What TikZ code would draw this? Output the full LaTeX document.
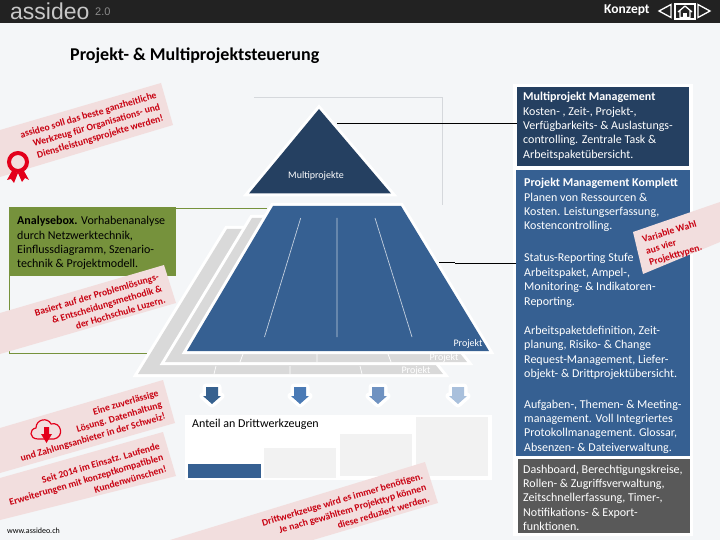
\documentclass[tikz,border=0pt]{standalone}
\usepackage{fontspec}
\setmainfont{Carlito}
\newfontfamily\logofont{Liberation Sans}
\definecolor{pagebg}{HTML}{F4F6F8}
\definecolor{headbg}{HTML}{222222}
\definecolor{navy}{HTML}{254061}
\definecolor{midblue}{HTML}{366092}
\definecolor{darkgray}{HTML}{595959}
\definecolor{olive}{HTML}{76923C}
\definecolor{ribbonpink}{HTML}{F2DEDE}
\definecolor{ribbonred}{HTML}{C80010}
\definecolor{medalred}{HTML}{E3001B}
\definecolor{layergray}{HTML}{D9D9D9}
\definecolor{barray}{HTML}{F2F2F2}
\definecolor{frameline}{HTML}{D5D8DC}
\tikzset{
  x=1pt,y=-1pt,
  panelbox/.style={inner sep=0,outer sep=0},
  bodytext/.style={inner sep=0,anchor=north west,align=left,font=\fontsize{12}{14.45}\selectfont},
  whitebody/.style={bodytext,text=white},
  ribbonfill/.style={fill=ribbonpink,draw=none},
  ribbontext/.style={inner sep=0,anchor=east,align=right,rotate=16.5,text=ribbonred,font=\fontsize{9.7}{12}\selectfont\bfseries},
  halo/.style={preaction={draw=white,line width=6pt,line join=miter}},
  projlabel/.style={inner sep=0,text=white,font=\fontsize{10}{12}\selectfont},
  innerline/.style={draw=white,line width=0.7pt},
  leader/.style={draw=black,line width=1.1pt},
  oliveline/.style={draw=olive,line width=0.8pt},
  navicon/.style={draw=white,line width=1.3pt},
  downarrow/.style={preaction={draw=white,line width=7pt,line join=round}},
}
\begin{document}
\begin{tikzpicture}
\path[use as bounding box,fill=pagebg] (0,0) rectangle (720,540);
% header
\fill[headbg] (0,0) rectangle (720,23);
\node[inner sep=0,anchor=west,text=white!78!black,font=\logofont\fontsize{23}{23}\selectfont] (logo) at (10,11) {assideo};
\node[inner sep=0,anchor=west,text=white!55!black,font=\logofont\fontsize{11}{11}\selectfont] (ver) at (95,11.5) {2.0};
\node[inner sep=0,anchor=west,text=white,font=\fontsize{13.5}{13.5}\selectfont\bfseries] (konzept) at (604,10.5) {Konzept};
\draw[navicon] (671,4.5) -- (659,11) -- (671,17.5) -- cycle;
\draw[navicon] (675,4) rectangle (695,19);
\draw[navicon,line join=round] (678,12) -- (685,6) -- (692,12) (680,11) -- (680,17.5) -- (690,17.5) -- (690,11);
\fill[white] (683,13) rectangle (687,17.5);
\draw[navicon] (698,4.5) -- (710,11) -- (698,17.5) -- cycle;
% title
\node[inner sep=0,anchor=west,font=\fontsize{18}{18}\selectfont\bfseries] (title) at (70,55.5) {Projekt- \& Multiprojektsteuerung};
% guide lines
\coordinate (fa) at (254,97.5); \coordinate (fb) at (442.5,97.5); \coordinate (fc) at (442.5,205);
\draw[frameline,line width=0.8pt] (fa) -- (fb) -- (fc);
\coordinate (oa) at (9,276); \coordinate (ob) at (9,353); \coordinate (oc) at (178,353);
\coordinate (od) at (176,208); \coordinate (oe) at (267,208);
\draw[oliveline] (oa) -- (ob) -- (oc);
\draw[oliveline] (od) -- (oe);
% gray layers
\path[fill=layergray,halo] (227,229) -- (325,229) -- (443,374) -- (138,374) -- cycle;
\draw[innerline] (216,366) -- (214,374) (290,366) -- (290,374) (360,366) -- (362,374);
\path[fill=layergray,halo] (252,218) -- (350,218) -- (467,362) -- (165,362) -- cycle;
\draw[innerline] (243,354) -- (240,362) (317,354) -- (317,362) (388,354) -- (391,362);
% main pyramid
\path[fill=midblue,halo] (273,206) -- (401,206) -- (489,351) -- (187,351) -- cycle;
\draw[draw=white!70!midblue,line width=0.7pt] (300.7,218) -- (264.5,337) (337,218) -- (337,337) (375,218) -- (412,337);
\path[fill=navy,halo] (319,109) -- (391,193.5) -- (249,193.5) -- cycle;
\node[projlabel] (multi) at (316,175.5) {Multiprojekte};
\node[projlabel] (p1) at (468,344) {Projekt};
\node[projlabel] (p2) at (444,358) {Projekt};
\node[projlabel] (p3) at (416,371) {Projekt};
% arrows
\foreach \cx/\col in {212/36618F,300/4A7AB5,378/6F92C1,458/A9C0DC}{
  \definecolor{arrowcol}{HTML}{\col}
  \path[fill=arrowcol,downarrow] (\cx-6,387) -- (\cx+6,387) -- (\cx+6,396) -- (\cx+9,396) -- (\cx,404) -- (\cx-9,396) -- (\cx-6,396) -- cycle;
}
% chart panel
\fill[white] (185,415) rectangle (492,480);
\fill[midblue] (188,464) rectangle (261,478);
\fill[barray] (264,448) rectangle (336,478);
\fill[barray] (340,434) rectangle (412,476);
\fill[barray] (416,417) rectangle (488,476);
\node[inner sep=0,anchor=west,font=\fontsize{12}{12}\selectfont] (anteil) at (192,424.5) {Anteil an Drittwerkzeugen};
% analysis box
\node[panelbox,fill=olive,minimum width=167pt,minimum height=69pt,anchor=north west] (ana) at (9,207) {};
\node[bodytext,text=black] (anatext) at (17,216) {\textbf{Analysebox.} Vorhabenanalyse\\durch Netzwerktechnik,\\Einflussdiagramm, Szenario-\\technik \& Projektmodell.};
% right boxes
\fill[white] (513,84) rectangle (693,536);
\node[panelbox,fill=navy,minimum width=172pt,minimum height=79pt,anchor=north west] (mpm) at (517,87) {};
\node[panelbox,fill=midblue,minimum width=174pt,minimum height=286pt,anchor=north west] (pm) at (516,170) {};
\node[panelbox,fill=darkgray,minimum width=172pt,minimum height=74pt,anchor=north west] (base) at (518,459) {};
\node[whitebody] (mpmt) at (523,92) {\textbf{Multiprojekt Management}\\Kosten- , Zeit-, Projekt-,\\Verfügbarkeits- \& Auslastungs-\\controlling. Zentrale Task \&\\Arbeitspaketübersicht.};
\node[whitebody] (pmt1) at (524,178) {\textbf{Projekt Management Komplett}\\Planen von Ressourcen \&\\Kosten. Leistungserfassung,\\Kostencontrolling.};
\node[whitebody] (pmt2) at (524,253.5) {Status-Reporting Stufe\\Arbeitspaket, Ampel-,\\Monitoring- \& Indikatoren-\\Reporting.};
\node[whitebody] (pmt3) at (524,326) {Arbeitspaketdefinition, Zeit-\\planung, Risiko- \& Change\\Request-Management, Liefer-\\objekt- \& Drittprojektübersicht.};
\node[whitebody] (pmt4) at (524,399.5) {Aufgaben-, Themen- \& Meeting-\\management. Voll Integriertes\\Protokollmanagement. Glossar,\\Absenzen- \& Dateiverwaltung.};
\node[whitebody] (baset) at (523,464.5) {Dashboard, Berechtigungskreise,\\Rollen- \& Zugriffsverwaltung,\\Zeitschnellerfassung, Timer-,\\Notifikations- \& Export-\\funktionen.};
% leaders
\coordinate (la) at (337,123.5); \coordinate (lb) at (439,262.5); \coordinate (lc) at (455,263.5);
\draw[leader] (la) -- (mpm.west |- la);
\draw[leader] (lb) -- (lc |- lb) (lc) -- (pm.west |- lc);
% ribbons
\path[ribbonfill] (161,83) -- (173,125) -- (0,177) -- (0,130) -- cycle;
\node[ribbontext] (r1) at (160,107) {assideo soll das beste ganzheitliche\\Werkzeug für Organisations- und\\Dienstleistungsprojekte werden!};
\path[ribbonfill] (164,265) -- (176,303) -- (0,354) -- (0,313) -- cycle;
\node[ribbontext] (r2) at (162,288) {Basiert auf der Problemlösungs-\\\& Entscheidungsmethodik \&\\der Hochschule Luzern.};
\path[ribbonfill] (163,380) -- (175,423) -- (0,473) -- (0,428) -- cycle;
\node[ribbontext] (r3) at (162,405) {Eine zuverlässige\\Lösung. Datenhaltung\\und Zahlungsanbieter in der Schweiz!};
\path[ribbonfill] (163,432) -- (176,476) -- (0,520) -- (0,478) -- cycle;
\node[ribbontext] (r4) at (163,457) {Seit 2014 im Einsatz. Laufende\\Erweiterungen mit konzeptkompatiblen\\Kundenwünschen!};
\path[ribbonfill] (425,462) -- (438,503) -- (313,540) -- (170,540) -- cycle;
\node[ribbontext] (r5) at (426,487) {Drittwerkzeuge wird es immer benötigen.\\Je nach gewähltem Projekttyp können\\diese reduziert werden.};
\path[ribbonfill] (633,232) -- (720,202) -- (720,242) -- (643,274) -- cycle;
\node[inner sep=0,anchor=west,align=left,rotate=17,text=ribbonred,font=\fontsize{9.7}{12}\selectfont\bfseries] (r6) at (646,252) {Variable Wahl\\aus vier\\Projekttypen.};
% medal
\draw[medalred,line width=4pt] (18,162) circle (9pt);
\fill[medalred] (12,171) -- (18,173) -- (14,183) -- (11,179) -- (7,180) -- cycle;
\fill[medalred] (24,171) -- (18,173) -- (22,182) -- (25,178) -- (29,180) -- cycle;
% cloud
\draw[medalred,line width=1.2pt,line join=round] (38,439) .. controls (29,439) and (29,429) .. (36,428) .. controls (36,419) and (48,417) .. (51,424) .. controls (61,421) and (65,437) .. (54,439) -- cycle;
\fill[medalred] (44,427) -- (49,427) -- (49,434) -- (52,434) -- (46.5,443) -- (41,434) -- (44,434) -- cycle;
% url
\node[inner sep=0,anchor=west,font=\fontsize{8}{8}\selectfont] (url) at (7,531) {www.assideo.ch};
\end{tikzpicture}
\end{document}
